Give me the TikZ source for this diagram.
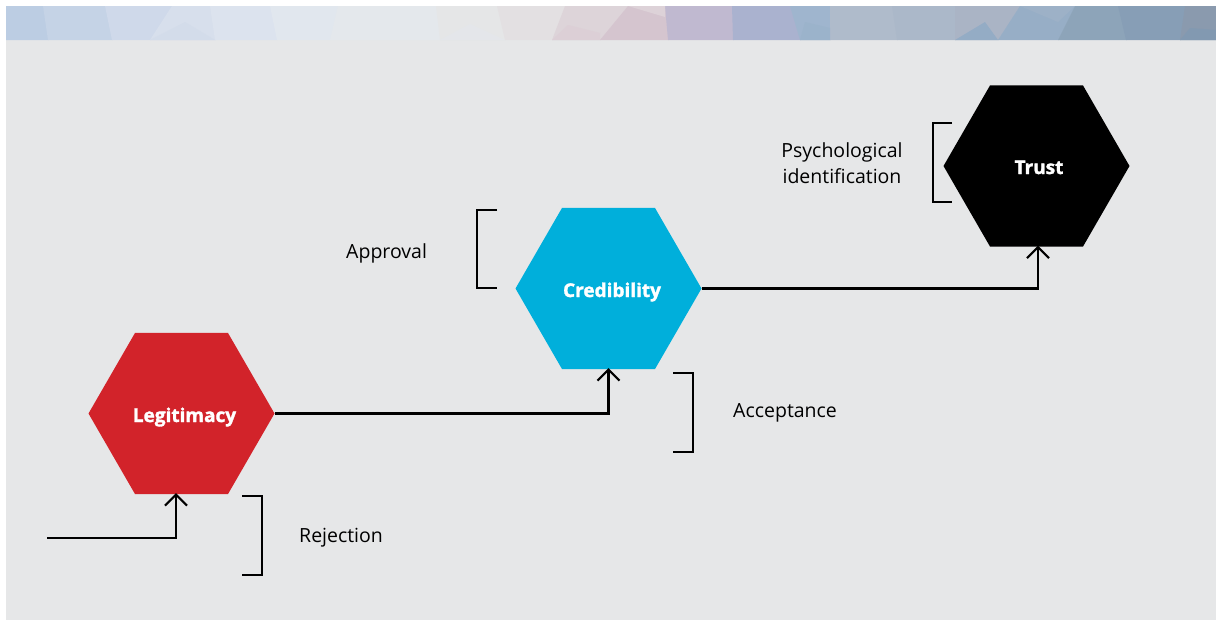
\documentclass[tikz,border=0pt]{standalone}
\usepackage{fontspec}
\setmainfont{Open Sans}
\newfontfamily\heavyfont{Open Sans}[UprightFont={* Bold}, UprightFeatures={FakeBold=1.6}]
\usetikzlibrary{shapes.geometric,arrows.meta}
\definecolor{bgray}{HTML}{E6E7E8}
\definecolor{legred}{HTML}{D2232A}
\definecolor{credblue}{HTML}{00AFDB}
\begin{document}
\begin{tikzpicture}[x=1pt,y=-1pt,
  hexa/.style={regular polygon, regular polygon sides=6, minimum size=186pt, inner sep=0pt, outer sep=0pt, draw=none},
  hlabel/.style={anchor=base, inner sep=0pt, text=white, font=\heavyfont\fontsize{19}{22}\selectfont},
  lab/.style={anchor=base west, inner sep=0pt, font=\fontsize{19.5}{26}\selectfont},
  conn/.style={line width=2.2pt, -{Straight Barb[length=11pt,width=22pt]}, shorten >=-1pt},
  brack/.style={line width=1.6pt}]
\useasboundingbox (0,0) rectangle (1216,621);
\fill[white] (0,0) rectangle (1216,621);
\fill[bgray] (6,40) rectangle (1216,620);
% banner mosaic
\foreach \a/\b/\c/\d/\col in {6/6/43/48/BCCDE3, 43/48/105/112/C5D3E6, 105/112/172/150/CFD9EA, 172/150/210/215/D7DFEC, 210/215/270/277/DCE3EE, 270/277/338/330/E1E7EE, 338/330/436/440/E4E8EC, 436/440/497/505/E5E6E7, 497/505/565/552/E3E0E2, 565/552/628/600/DDD4D9, 628/600/665/668/D5C5CF, 665/668/732/733/C0B9D0, 732/733/790/800/AAB2CF, 790/800/830/830/9FB5CE, 830/830/892/897/AFBBCB, 892/897/955/955/ABB8C9, 955/955/1020/998/AAB4C5, 1020/998/1075/1058/97AEC6, 1075/1058/1118/1126/8DA4B9, 1118/1126/1185/1180/879EB6, 1185/1180/1216/1216/8A9AAE}
{\definecolor{bc}{HTML}{\col}
 \fill[bc] (\a,6) -- (\c+0.6,6) -- (\d+0.6,40) -- (\b,40) -- cycle;}
% a few lighter/darker facets
\definecolor{fa}{HTML}{D3DCEA}\fill[fa] (150,40) -- (185,22) -- (215,40) -- cycle;
\definecolor{fb}{HTML}{E4E6EA}\fill[fb] (440,40) -- (470,24) -- (505,40) -- cycle;
\definecolor{fc}{HTML}{DCCFD6}\fill[fc] (552,40) -- (568,25) -- (600,33) -- (600,40) -- cycle;
\definecolor{fd}{HTML}{DDD2D8}\fill[fd] (628,6) -- (665,6) -- (665,17) -- cycle;
\definecolor{fe}{HTML}{9BB3CB}\fill[fe] (800,40) -- (805,22) -- (830,28) -- (830,40) -- cycle;
\definecolor{ff}{HTML}{94ACC5}\fill[ff] (955,40) -- (985,22) -- (998,40) -- cycle;
\definecolor{fg}{HTML}{9DB1C7}\fill[fg] (1020,6) -- (1075,6) -- (1058,22) -- cycle;
\definecolor{fh}{HTML}{8299B1}\fill[fh] (1180,40) -- (1190,28) -- (1216,30) -- (1216,40) -- cycle;
% hexagons
\node[hexa, fill=legred] (leg) at (181.5,413.5) {};
\node[hexa, fill=credblue] (cred) at (608.5,288.5) {};
\node[hexa, fill=black] (trust) at (1036.5,166) {};
\node[hlabel] (legT) at (184.5,422) {Legitimacy};
\node[hlabel] (credT) at (612,297) {Credibility};
\node[hlabel] (trustT) at (1039,174) {Trust};
% connectors
\coordinate (start) at (47,538);
\draw[conn] (start) -| ([xshift=-5.5pt]leg.south);
\draw[conn] (leg.east) -| (cred.south);
\draw[conn] (cred.east) -| ([xshift=1.5pt]trust.south);
% brackets
\draw[brack] (242,496) -- (262,496) -- (262,575) -- (242,575);
\draw[brack] (497,210) -- (477,210) -- (477,288) -- (497,288);
\draw[brack] (673,373) -- (693,373) -- (693,452) -- (673,452);
\draw[brack] (952,123) -- (933,123) -- (933,202) -- (952,202);
% labels
\node[lab] (rej) at (299,542) {Rejection};
\node[lab] (appr) at (346,258) {Approval};
\node[lab] (acc) at (733,417) {Acceptance};
\node[anchor=base, inner sep=0pt, align=center, font=\fontsize{19.5}{26}\selectfont] (psy) at (842,183) {Psychological\\identification};
\end{tikzpicture}
\end{document}
